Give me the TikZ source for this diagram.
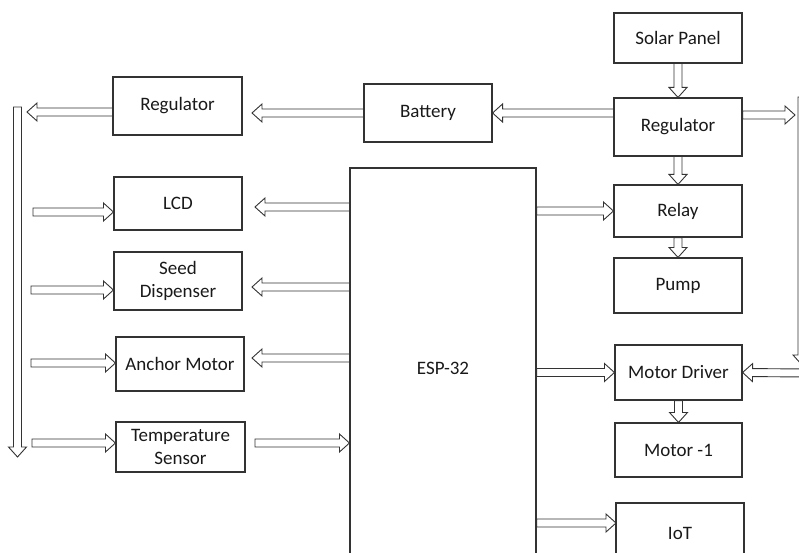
\documentclass[tikz,border=0pt]{standalone}
\usepackage{fontspec}
\setmainfont{Carlito}
\usetikzlibrary{calc}

\tikzset{
  blk/.style={draw=black!80, line width=0.9pt,
    to path={let \p1=(\tikztostart), \p2=(\tikztotarget),
      \n1={veclen(\x2-\x1,\y2-\y1)}, \n2={(\x2-\x1)/\n1}, \n3={(\y2-\y1)/\n1} in
      ({\x1-(\n3)*4pt},{\y1+(\n2)*4pt})
      -- ({\x2-(\n2)*10pt-(\n3)*4pt},{\y2-(\n3)*10pt+(\n2)*4pt})
      -- ({\x2-(\n2)*10pt-(\n3)*9pt},{\y2-(\n3)*10pt+(\n2)*9pt})
      -- (\p2)
      -- ({\x2-(\n2)*10pt+(\n3)*9pt},{\y2-(\n3)*10pt-(\n2)*9pt})
      -- ({\x2-(\n2)*10pt+(\n3)*4pt},{\y2-(\n3)*10pt-(\n2)*4pt})
      -- ({\x1+(\n3)*4pt},{\y1-(\n2)*4pt}) -- cycle}}
}

\begin{document}
\begin{tikzpicture}[x=1pt, y=-1pt,
  box/.style={draw=black!80, line width=1.1pt, minimum width=128pt, minimum height=55pt,
    inner sep=2pt, align=center, text=black!90, font=\fontsize{19}{23}\selectfont}]

	\useasboundingbox (0,0) rectangle (799,553);

	% right column
	\node[box, minimum height=50pt] (solar) at (678,38) {Solar Panel};
	\node[box, minimum height=58pt] (regr) at (678,127) {Regulator};
	\node[box, minimum height=52pt] (relay) at (678,211) {Relay};
	\node[box] (pump) at (678,285.5) {Pump};
	\node[box, minimum width=127pt] (mdrv) at (678.5,372.5) {Motor Driver};
	\node[box, minimum width=127pt, minimum height=54pt] (mot1) at (678.5,450) {Motor -1};
	\node[box, minimum height=60pt] (iot) at (680,533) {IoT};

	% middle
	\node[box, minimum width=186pt, minimum height=400pt] (esp) at (443,368) {ESP-32};
	\node[box, minimum height=58pt] (bat) at (428,113) {Battery};

	% left column
	\node[box, minimum width=129pt, minimum height=58pt] (regl) at (177.5,106) {Regulator};
	\node[box, minimum height=53pt] (lcd) at (178,203.5) {LCD};
	\node[box, minimum height=58pt] (seed) at (178,281) {Seed\\Dispenser};
	\node[box, minimum height=54pt] (anch) at (180,364) {Anchor Motor};
	\node[box, minimum width=129pt, minimum height=50pt] (temp) at (180.5,447) {Temperature\\Sensor};

	% free ends
	\coordinate (ltop) at (17.5,107);
	\coordinate (lbot) at (17.5,457);
	\coordinate (rtop) at (802,97);
	\coordinate (rbot) at (802,365);
	\coordinate (rin) at (806,373);
	\coordinate (rt) at (795,115);
	\coordinate (lt) at (27,112);
	\coordinate (bt) at (252,113);
	\coordinate (i1) at (33,212);
	\coordinate (i2) at (31,290);
	\coordinate (i3) at (31,363);
	\coordinate (i4) at (32,443);
	\coordinate (o1) at (255,207);
	\coordinate (o2) at (252,287);
	\coordinate (o3) at (252,358);
	\coordinate (ti) at (255,443);
	\coordinate (o4) at (616,523);

	% power
	\draw[blk] (solar.south) to (regr.north);
	\draw[blk] (regr.south) to (relay.north);
	\draw[blk] (relay.south) to (pump.north);
	\draw[blk] (mdrv.south) to (mot1.north);
	\draw[blk] ([yshift=14pt]regr.west) to (bat.east);
	\draw[blk] (bat.west) to (bt);
	\draw[blk] ([yshift=-6pt]regl.west) to (lt);
	\draw[blk] ([yshift=12pt]regr.east) to (rt);
	\draw[blk] (ltop) to (lbot);
	\draw[blk] (rtop) to (rbot);
	\draw[blk] (rin) to (mdrv.east);

	% left supply lines
	\foreach \b/\k in {lcd/1, seed/2, anch/3, temp/4}
		\draw[blk] (i\k) to (\b.west |- i\k);

	% ESP-32 lines
	\foreach \k in {1,2,3}
		\draw[blk] (esp.west |- o\k) to (o\k);
	\draw[blk] (ti) to (esp.west |- ti);
	\draw[blk] (esp.east |- relay.west) to (relay.west);
	\draw[blk] (esp.east |- mdrv.west) to (mdrv.west);
	\draw[blk] (esp.east |- o4) to (o4);
\end{tikzpicture}
\end{document}
